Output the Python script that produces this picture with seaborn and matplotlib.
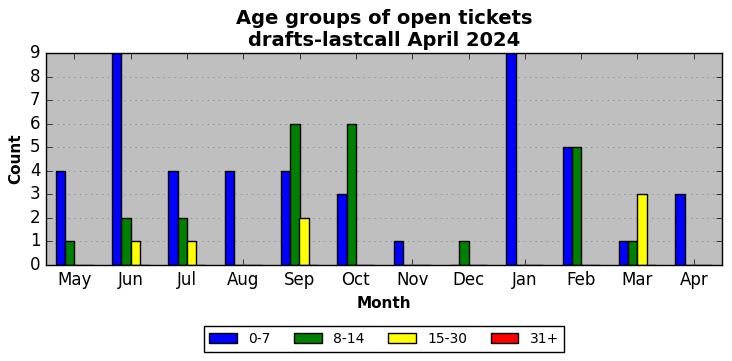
import pandas as pd
import seaborn as sns
from matplotlib import pyplot as plt

plt.style.use("classic")

months = ["May", "Jun", "Jul", "Aug", "Sep", "Oct", "Nov", "Dec", "Jan", "Feb", "Mar", "Apr"]
age_groups = ["0-7", "8-14", "15-30", "31+"]
g0_7 = [4, 9, 4, 4, 4, 3, 1, 0, 9, 5, 1, 3]
g8_14 = [1, 2, 2, 0, 6, 6, 0, 1, 0, 5, 1, 0]
g15_30 = [0, 1, 1, 0, 2, 0, 0, 0, 0, 0, 3, 0]
g31 = [0, 0, 0, 0, 0, 0, 0, 0, 0, 0, 0, 0]
colors = ["blue", "green", "yellow", "red"]

rows = []
for grp, vals in zip(age_groups, [g0_7, g8_14, g15_30, g31]):
    for m, v in zip(months, vals):
        rows.append({"Month": m, "Age": grp, "Count": v})
df = pd.DataFrame(rows)

fig = plt.figure(figsize=(7.32, 3.61), dpi=100)
ax = fig.add_axes([46 / 732, 1 - 265 / 361, 676 / 732, 212 / 361])
ax.set_facecolor("#bfbfbf")

sns.barplot(data=df, x="Month", y="Count", hue="Age", order=months,
            hue_order=age_groups, palette=colors, saturation=1, width=0.66,
            edgecolor="black", linewidth=1, errorbar=None, ax=ax)

ax.set_xlim(-0.5, 11.5)
ax.set_ylim(0, 9)
ax.set_yticks(range(10))
ax.yaxis.grid(True, linestyle=":", color="#808080")
ax.xaxis.grid(False)
ax.set_axisbelow(True)
ax.set_xlabel("Month", fontsize=11, fontweight="bold")
ax.set_ylabel("Count", fontsize=11, fontweight="bold")
ax.set_title("Age groups of open tickets\ndrafts-lastcall April 2024",
             fontsize=14, fontweight="bold")
ax.tick_params(labelsize=12)

ax.legend(loc="upper center", bbox_to_anchor=(0.5, -0.257), ncol=4,
          fontsize=10, fancybox=False, frameon=True, title=None,
          columnspacing=1.7)

fig.savefig("out.png", dpi=100)
